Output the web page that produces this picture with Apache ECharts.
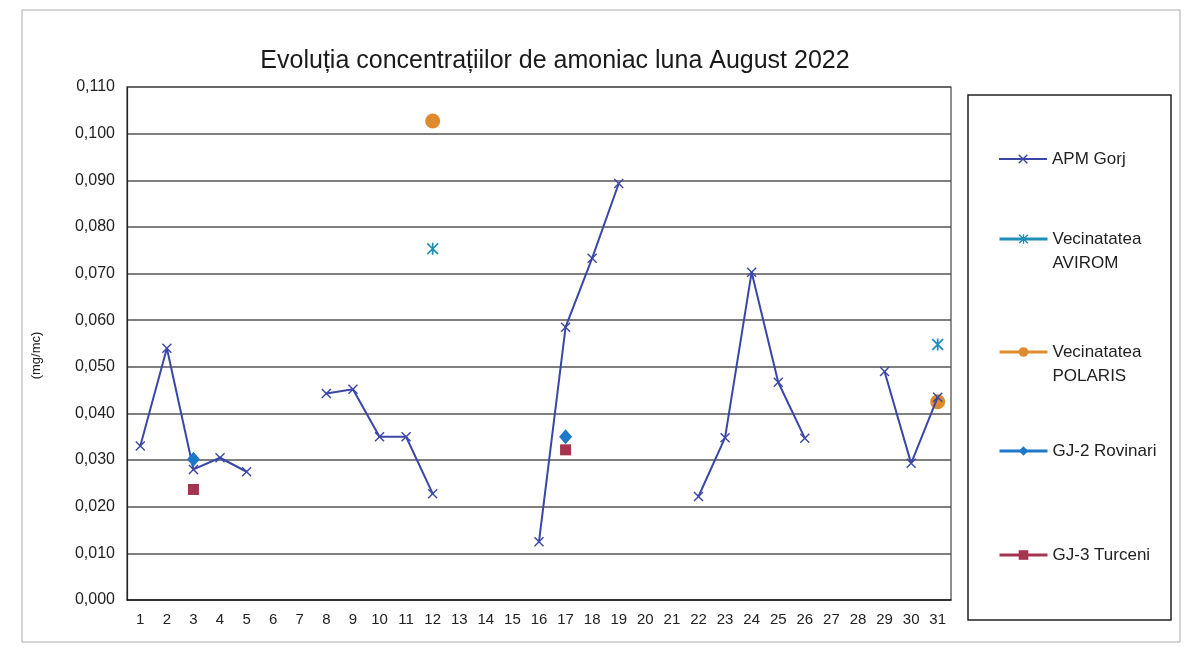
<!DOCTYPE html>
<html>
<head>
<meta charset="utf-8">
<script src="https://cdn.jsdelivr.net/npm/echarts@6/dist/echarts.min.js"></script>
<style>
html,body{margin:0;padding:0;background:#fff;}
#c{width:1188px;height:652px;}
</style>
</head>
<body>
<div id="c"></div>
<script>
const days = ['1','2','3','4','5','6','7','8','9','10','11','12','13','14','15','16','17','18','19','20','21','22','23','24','25','26','27','28','29','30','31'];
const apmGorj = [0.033,0.054,0.028,0.0305,0.0275,null,null,0.0443,0.0452,0.035,0.035,0.0228,null,null,null,0.0125,0.0585,0.0733,0.0893,null,null,0.0222,0.0348,0.0703,0.0467,0.0347,null,null,0.049,0.0293,0.0435];
const avirom = [null,null,null,null,null,null,null,null,null,null,null,0.0753,null,null,null,null,null,null,null,null,null,null,null,null,null,null,null,null,null,null,0.0548];
const polaris = [null,null,null,null,null,null,null,null,null,null,null,0.1027,null,null,null,null,null,null,null,null,null,null,null,null,null,null,null,null,null,null,0.0425];
const rovinari = [null,null,0.0302,null,null,null,null,null,null,null,null,null,null,null,null,null,0.035,null,null,null,null,null,null,null,null,null,null,null,null,null,null];
const turceni = [null,null,0.0237,null,null,null,null,null,null,null,null,null,null,null,null,null,0.0322,null,null,null,null,null,null,null,null,null,null,null,null,null,null];
const seriesNames = ['APM Gorj','Vecinatatea AVIROM','Vecinatatea POLARIS','GJ-2 Rovinari','GJ-3 Turceni'];
const legendLabels = ['APM Gorj','\u00a0\nVecinatatea\nAVIROM','\u00a0\nVecinatatea\nPOLARIS','GJ-2 Rovinari','GJ-3 Turceni'];

const X_PATH = 'path://M0,1 L1,0 L5,4 L9,0 L10,1 L6,5 L10,9 L9,10 L5,6 L1,10 L0,9 L4,5 Z';
const STAR_PATH = 'path://M0,1 L1,0 L5,4 L9,0 L10,1 L6,5 L10,9 L9,10 L5,6 L1,10 L0,9 L4,5 Z M4.3,0 L5.7,0 L5.7,10 L4.3,10 Z';

const FONT = '"Liberation Sans", Arial, sans-serif';
const chart = echarts.init(document.getElementById('c'), null, {renderer:'canvas'});

function mkLegend(i, top, lw){
  return {
    data:[seriesNames[i]], left: 993, top: top, orient:'vertical',
    itemWidth: 48, itemHeight: 12, selectedMode:false,
    lineStyle:{width: lw},
    formatter: function(){ return legendLabels[i]; },
    textStyle:{fontFamily:FONT, fontSize:17, color:'#222', lineHeight:24}
  };
}

const option = {
  backgroundColor:'#ffffff',
  animation:false,
  title:{text:'Evoluția concentrațiilor de amoniac luna August 2022', left:550, top:44, textAlign:'center',
    textStyle:{fontFamily:FONT, fontSize:25, fontWeight:'normal', color:'#1a1a1a'}},
  grid:{left:127, right:237, top:87, bottom:52, show:true, borderColor:'#444', borderWidth:1.2, backgroundColor:'transparent'},
  legend:[mkLegend(0,142,2), mkLegend(1,198,3), mkLegend(2,311,3), mkLegend(3,434,3), mkLegend(4,538,3)],
  xAxis:{type:'category', data:days, boundaryGap:true,
    axisLine:{show:true, lineStyle:{color:'#222', width:1.5}}, axisTick:{show:false},
    axisLabel:{fontFamily:'"Liberation Sans Narrow", "Liberation Sans", Arial, sans-serif', fontSize:15, color:'#222', margin:12, interval:0}},
  yAxis:{type:'value', min:0, max:0.11, interval:0.01,
    name:'(mg/mc)', nameLocation:'middle', nameGap:84, nameRotate:90,
    nameTextStyle:{fontFamily:FONT, fontSize:13, color:'#222', padding:[0,24,0,0]},
    axisLine:{show:true, lineStyle:{color:'#222', width:1.2}}, axisTick:{show:false},
    splitLine:{show:true, lineStyle:{color:'#555', width:1.6}},
    axisLabel:{fontFamily:FONT, fontSize:16, color:'#222', margin:12,
      formatter:function(v){ return v.toFixed(3).replace('.',','); }}},
  graphic:[
    {type:'rect', shape:{x:968, y:95, width:203, height:525}, style:{fill:'none', stroke:'#222', lineWidth:1.5}, z:-1},
    {type:'rect', shape:{x:22, y:10, width:1158, height:632}, style:{fill:'none', stroke:'#aaa', lineWidth:1}, z:-1}
  ],
  series:[
    {name:seriesNames[0], type:'line', data:apmGorj, connectNulls:false, symbol:X_PATH, symbolSize:10,
      lineStyle:{color:'#3A47A6', width:2}, itemStyle:{color:'#3A47A6'}, z:3},
    {name:seriesNames[1], type:'line', data:avirom, connectNulls:false, symbol:STAR_PATH, symbolSize:12,
      lineStyle:{color:'#1E8DB8', width:3}, itemStyle:{color:'#1E8DB8'}, z:4},
    {name:seriesNames[2], type:'line', data:polaris, connectNulls:false, symbol:'circle', symbolSize:15,
      lineStyle:{color:'#E08A2E', width:3}, itemStyle:{color:'#E08A2E'}, z:2},
    {name:seriesNames[3], type:'line', data:rovinari, connectNulls:false, symbol:'diamond', symbolSize:[13,15],
      lineStyle:{color:'#1F77C9', width:3}, itemStyle:{color:'#1F77C9'}, z:5},
    {name:seriesNames[4], type:'line', data:turceni, connectNulls:false, symbol:'rect', symbolSize:11,
      lineStyle:{color:'#A5344F', width:3}, itemStyle:{color:'#A5344F'}, z:5}
  ]
};
chart.setOption(option);
</script>
</body>
</html>
